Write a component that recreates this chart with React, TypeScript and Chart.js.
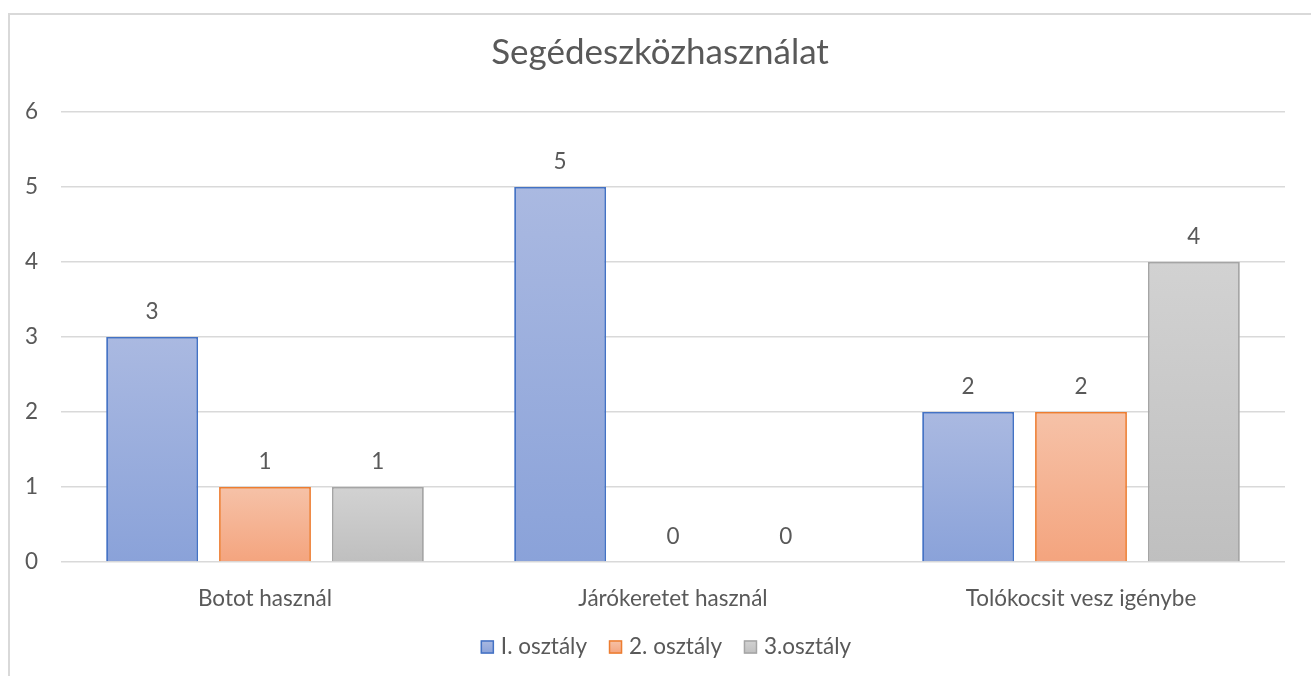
import React, { useEffect, useRef } from "react";
import { Chart, registerables } from "chart.js";

Chart.register(...registerables);

const titleText = "Segédeszközhasználat";
const categories = ["Botot használ", "Járókeretet használ", "Tolókocsit vesz igénybe"];
const seriesNames = ["I. osztály", "2. osztály", "3.osztály"];
const series1 = [3, 5, 2];
const series2 = [1, 0, 2];
const series3 = [1, 0, 4];
const yTicks = [0, 1, 2, 3, 4, 5, 6];

const FONT = "Lato, 'Open Sans', sans-serif";
const TEXT = "#595959";
const GRID = "#d9d9d9";
const FS = 22.5;

const styles = [
  { border: "#4472c4", top: "#aab9e1", bottom: "#8aa2d9", mid: "#9aaedd" },
  { border: "#ed7d31", top: "#f6c2a8", bottom: "#f4a47e", mid: "#f5b393" },
  { border: "#a5a5a5", top: "#d2d2d2", bottom: "#bfbfbf", mid: "#c9c9c9" },
];

function barFill(ctx: any, s: number) {
  const chart = ctx.chart;
  const st = styles[s];
  const y = chart.scales && chart.scales.y;
  if (!chart.chartArea || !y || typeof ctx.raw !== "number") return st.mid;
  const top = y.getPixelForValue(ctx.raw);
  const bottom = y.getPixelForValue(0);
  if (Math.abs(bottom - top) < 1) return st.mid;
  const g = chart.ctx.createLinearGradient(0, top, 0, bottom);
  g.addColorStop(0, st.top);
  g.addColorStop(1, st.bottom);
  return g;
}

const decorPlugin = {
  id: "decor",
  afterDatasetsDraw(chart: any) {
    const c = chart.ctx;
    c.save();
    // data labels
    c.font = `${FS}px ${FONT}`;
    c.fillStyle = TEXT;
    c.textAlign = "center";
    c.textBaseline = "middle";
    chart.data.datasets.forEach((ds: any, di: number) => {
      const meta = chart.getDatasetMeta(di);
      meta.data.forEach((bar: any, i: number) => {
        c.fillText(String(ds.data[i]), bar.x, bar.y - 25);
      });
    });
    // title
    c.font = `35px ${FONT}`;
    c.fillText(titleText, 660, 53);
    // legend
    c.font = `${FS}px ${FONT}`;
    const box = 13;
    const gapText = 7;
    const gapItem = 22;
    const widths = chart.data.datasets.map((ds: any) => c.measureText(ds.label).width);
    const total =
      widths.reduce((a: number, w: number) => a + box + gapText + w, 0) +
      gapItem * (widths.length - 1);
    let x = 666 - total / 2;
    const ly = 647;
    chart.data.datasets.forEach((ds: any, di: number) => {
      const st = styles[di];
      const g = c.createLinearGradient(0, ly - box / 2, 0, ly + box / 2);
      g.addColorStop(0, st.top);
      g.addColorStop(1, st.bottom);
      c.fillStyle = g;
      c.fillRect(x, ly - box / 2, box, box);
      c.strokeStyle = st.border;
      c.lineWidth = 1.5;
      c.strokeRect(x + 0.5, ly - box / 2 + 0.5, box - 1, box - 1);
      c.fillStyle = TEXT;
      c.textAlign = "left";
      c.fillText(ds.label, x + box + gapText, ly);
      x += box + gapText + widths[di] + gapItem;
    });
    c.restore();
  },
};

export default function App() {
  const ref = useRef<HTMLCanvasElement>(null);
  useEffect(() => {
    if (!ref.current) return;
    const allSeries = [series1, series2, series3];
    const chart = new Chart(ref.current, {
      type: "bar",
      data: {
        labels: categories,
        datasets: allSeries.map((d, s) => ({
          label: seriesNames[s],
          data: d,
          backgroundColor: (ctx: any) => barFill(ctx, s),
          borderColor: styles[s].border,
          borderWidth: 1.8,
          categoryPercentage: 0.83,
          barPercentage: 0.814,
        })),
      },
      options: {
        animation: false,
        responsive: true,
        maintainAspectRatio: false,
        layout: { padding: { top: 112, right: 26, bottom: 0, left: 0 } },
        plugins: {
          legend: { display: false },
          title: { display: false },
          tooltip: { enabled: false },
        },
        scales: {
          x: {
            grid: { display: false },
            border: { display: false },
            ticks: { color: TEXT, font: { family: FONT, size: FS }, padding: 15 },
            afterFit: (s: any) => {
              s.height = 114;
            },
          },
          y: {
            min: 0,
            max: 6,
            grid: { color: GRID, lineWidth: 1.5, drawTicks: false },
            border: { display: false },
            ticks: { color: TEXT, font: { family: FONT, size: FS }, padding: 23, stepSize: 1 },
            afterBuildTicks: (s: any) => {
              s.ticks = yTicks.map((v) => ({ value: v }));
            },
            afterFit: (s: any) => {
              s.width = 61;
            },
          },
        },
      },
      plugins: [decorPlugin],
    });
    return () => chart.destroy();
  }, []);

  return (
    <div
      style={{
        position: "fixed",
        left: 0,
        top: 0,
        width: 1311,
        height: 676,
        overflow: "hidden",
        background: "#fff",
      }}
    >
      <div
        style={{
          position: "absolute",
          left: 8,
          top: 13,
          width: 1400,
          height: 800,
          borderLeft: `2px solid ${GRID}`,
          borderTop: `2px solid ${GRID}`,
          boxSizing: "border-box",
        }}
      />
      <div style={{ position: "absolute", left: 0, top: 0, width: 1311, height: 676 }}>
        <canvas ref={ref} />
      </div>
    </div>
  );
}
